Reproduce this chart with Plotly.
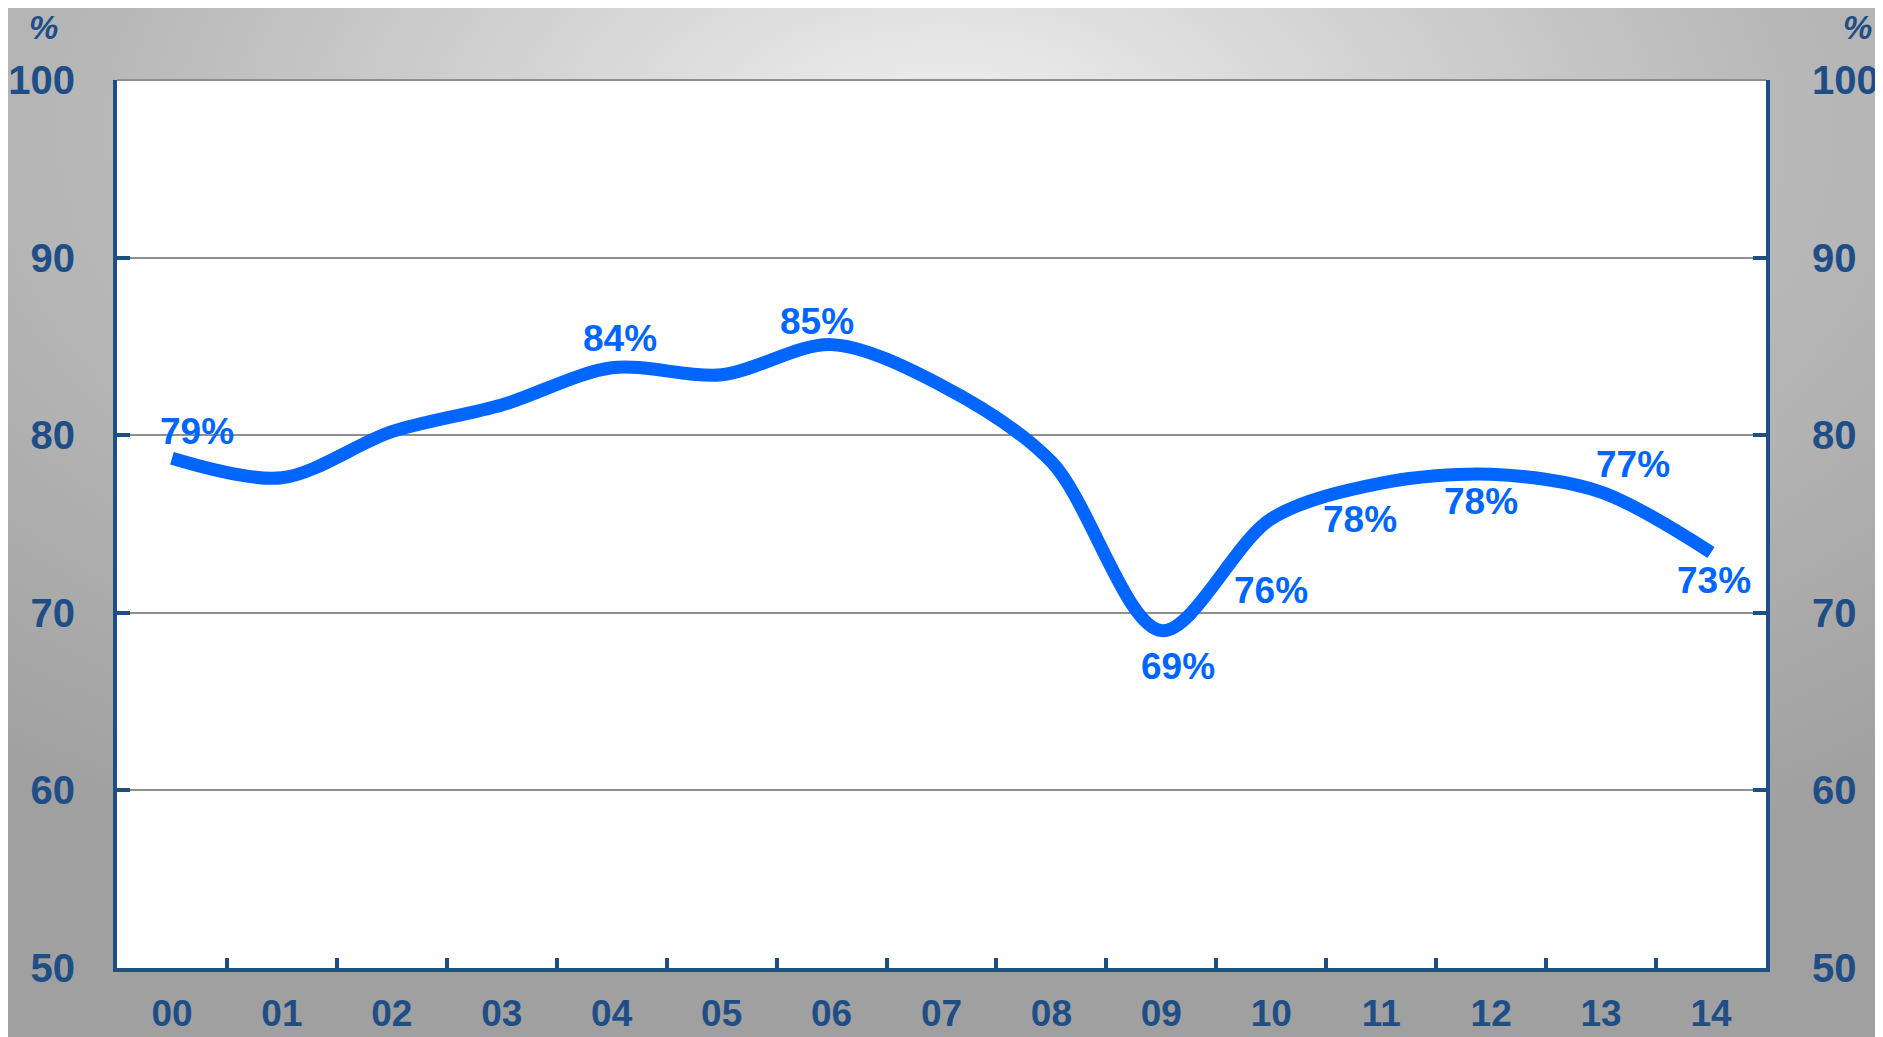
import base64
import plotly.graph_objects as go

# -----------------------------
# Data
# -----------------------------
years = ["00", "01", "02", "03", "04", "05", "06", "07",
         "08", "09", "10", "11", "12", "13", "14"]
rate = [78.7, 77.6, 80.2, 81.7, 83.8, 83.4, 85.1, 82.8,
        78.5, 69.0, 75.3, 77.3, 77.8, 76.8, 73.4]

# data labels shown on the chart (year -> text)
label_years = ["00", "04", "06", "09", "10", "11", "12", "13", "14"]
label_text = ["79%", "84%", "85%", "69%", "76%", "78%", "78%", "77%", "73%"]

y_ticks = [50, 60, 70, 80, 90, 100]

# pixel nudges of each data label from its point
label_shift = {
    "00": (25, 27), "04": (8, 29), "06": (-15, 23), "09": (17, -36),
    "10": (0, -72), "11": (-21, -36), "12": (-10, -27), "13": (32, 28),
    "14": (3, -28),
}

DARK = "#1F4E87"
LINE = "#0066FF"
GRID = "#8f8f8f"
FONT = "Liberation Sans, Arial, sans-serif"

# page body adds an 8px offset, so the figure is 8px smaller
W, H = 1875, 1029
ML, MR, MT, MB = 109, 117, 72, 69
PW, PH = W - ML - MR, H - MT - MB

# gray radial backdrop as an svg image
svg = (
    f'<svg xmlns="http://www.w3.org/2000/svg" width="{W}" height="{H}">'
    '<defs><radialGradient id="g" cx="50%" cy="12%" r="80%">'
    '<stop offset="0" stop-color="#f0f0f0"/>'
    '<stop offset="0.55" stop-color="#b9b9b9"/>'
    '<stop offset="1" stop-color="#a0a0a0"/>'
    '</radialGradient></defs>'
    '<rect width="100%" height="100%" fill="url(#g)"/></svg>'
)
bg_src = "data:image/svg+xml;base64," + base64.b64encode(svg.encode()).decode()

fig = go.Figure()

fig.add_trace(go.Scatter(
    x=years, y=rate, mode="lines",
    line=dict(color=LINE, width=13, shape="spline", smoothing=0.9),
    hoverinfo="x+y", showlegend=False,
))
# invisible trace to carry the right-hand axis
fig.add_trace(go.Scatter(
    x=years, y=rate, yaxis="y2", mode="lines",
    line=dict(width=0), opacity=0, hoverinfo="skip", showlegend=False,
))

for yr, txt in zip(label_years, label_text):
    dx, dy = label_shift[yr]
    fig.add_annotation(
        x=yr, y=rate[years.index(yr)], text=txt, showarrow=False,
        xshift=dx, yshift=dy,
        font=dict(family=FONT, size=37, color=LINE, weight="bold"),
    )

# "%" unit labels
for xpos in (-74 / PW, 1 + 91 / PW):
    fig.add_annotation(
        x=xpos, y=1 + 52 / PH, xref="paper", yref="paper",
        xanchor="center", yanchor="middle",
        text="<b><i>%</i></b>", showarrow=False,
        font=dict(family=FONT, size=33, color=DARK),
    )

fig.add_layout_image(
    source=bg_src, xref="paper", yref="paper",
    x=-ML / PW, y=1 + MT / PH, sizex=W / PW, sizey=H / PH,
    xanchor="left", yanchor="top", sizing="stretch", layer="below",
)
fig.add_shape(
    type="rect", xref="paper", yref="paper", x0=0, x1=1, y0=0, y1=1,
    fillcolor="white", line=dict(width=0), layer="below",
)
# gray top border of the plot area
fig.add_shape(
    type="line", xref="paper", yref="paper", x0=0, x1=1, y0=1, y1=1,
    line=dict(color=GRID, width=2), layer="below",
)

yaxis_common = dict(
    range=[50, 100], tickvals=y_ticks,
    showline=True, linecolor=DARK, linewidth=4,
    ticks="inside", ticklen=13, tickwidth=4, tickcolor=DARK,
    tickfont=dict(family=FONT, size=40, color=DARK, weight="bold"),
    zeroline=False, fixedrange=True, automargin=False,
)

fig.update_layout(
    width=W, height=H,
    margin=dict(l=ML, r=MR, t=MT, b=MB),
    paper_bgcolor="#a8a8a8",
    plot_bgcolor="rgba(0,0,0,0)",
    xaxis=dict(
        type="category", range=[-0.5, 14.5],
        showline=True, linecolor=DARK, linewidth=4,
        ticks="inside", ticklen=10, tickwidth=4, tickcolor=DARK,
        tickson="boundaries", showgrid=False,
        tickfont=dict(family=FONT, size=37, color=DARK, weight="bold"),
        ticklabelstandoff=10, fixedrange=True, automargin=False,
    ),
    yaxis=dict(
        **yaxis_common, side="left", ticklabelstandoff=30,
        showgrid=True, gridcolor=GRID, gridwidth=2,
    ),
    yaxis2=dict(
        **yaxis_common, side="right", overlaying="y", showgrid=False,
        ticklabelstandoff=34,
    ),
)

fig.write_html("out.html")
